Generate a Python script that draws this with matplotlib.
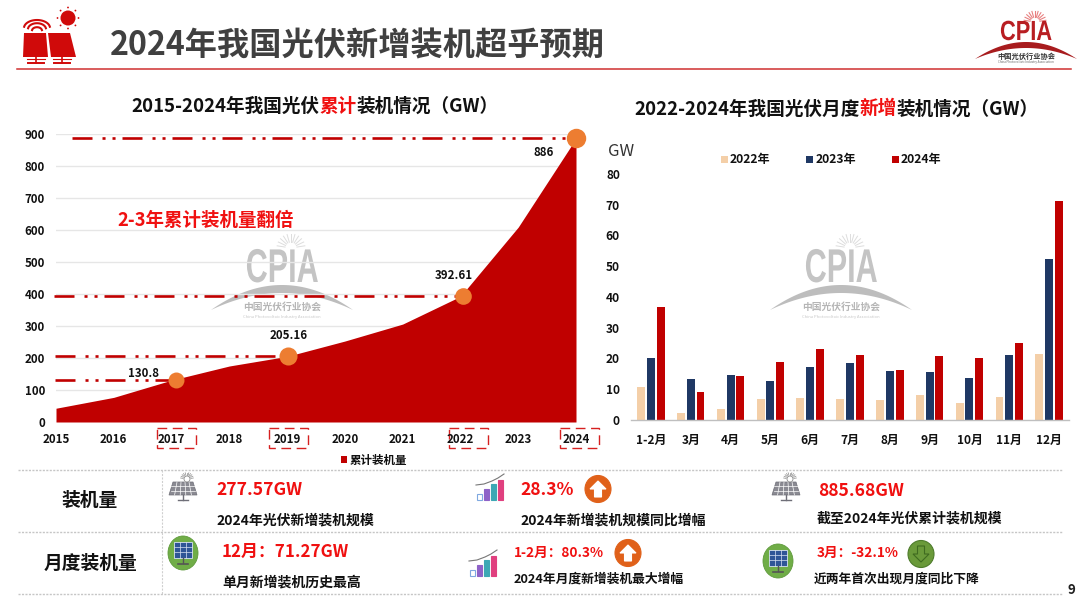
import numpy as np
import matplotlib
matplotlib.use("Agg")
import matplotlib.pyplot as plt
from matplotlib.patches import Circle, Ellipse, Polygon, Rectangle
from matplotlib.patheffects import AbstractPathEffect
from matplotlib.transforms import Affine2D

plt.rcParams["font.family"] = ["Noto Sans CJK SC", "DejaVu Sans"]
plt.rcParams["lines.scale_dashes"] = False

# ---------------- DATA ----------------
years = [2015, 2016, 2017, 2018, 2019, 2020, 2021, 2022, 2023, 2024]
cumulative = [43, 77, 130.8, 175, 205.16, 253, 306, 392.61, 609, 886]
y_ticks_left = [0, 100, 200, 300, 400, 500, 600, 700, 800, 900]

marked_years = [2017, 2019, 2022, 2024]
marked_labels = ["130.8", "205.16", "392.61", "886"]

months = ["1-2月", "3月", "4月", "5月", "6月", "7月", "8月", "9月", "10月", "11月", "12月"]
monthly_2022 = [10.7, 2.3, 3.6, 6.7, 7.0, 6.7, 6.6, 8.0, 5.5, 7.4, 21.5]
monthly_2023 = [20.2, 13.2, 14.6, 12.8, 17.1, 18.6, 15.9, 15.7, 13.5, 21.2, 52.2]
monthly_2024 = [36.7, 9.0, 14.3, 18.9, 23.2, 21.0, 16.3, 20.8, 20.3, 24.9, 71.27]
y_ticks_right = [0, 10, 20, 30, 40, 50, 60, 70, 80]

DARK_RED = "#C00000"
RED = "#F01010"
NAVY = "#1F3864"
PEACH = "#F4CFA8"
ORANGE = "#ED7D31"
INK = "#111111"
W, H = 1080, 599

fig = plt.figure(figsize=(W / 100, H / 100), dpi=100, facecolor="white")
renderer = fig.canvas.get_renderer()

bg = fig.add_axes([0, 0, 1, 1], zorder=0)
bg.set_xlim(0, W)
bg.set_ylim(H, 0)
bg.axis("off")


class StretchY(AbstractPathEffect):
    # tall condensed look of the CPIA logo letters
    def __init__(self, factor):
        super().__init__()
        self.factor = factor

    def draw_path(self, renderer, gc, tpath, affine, rgbFace=None):
        renderer.draw_path(gc, tpath, Affine2D().scale(1, self.factor) + affine, rgbFace)


def px_axes(left, top, right, bottom):
    ax = fig.add_axes([left / W, 1 - bottom / H, (right - left) / W, (bottom - top) / H], zorder=1)
    ax.patch.set_alpha(0)
    return ax


def txt(x, y, s, size, color=INK, weight="bold", ha="left", **kw):
    return bg.text(x, y + 1, s, fontsize=size, color=color, fontweight=weight, ha=ha, va="center", **kw)


def mixed_text(x, y, parts, size):
    for s, color in parts:
        t = txt(x, y, s, size, color)
        x += t.get_window_extent(renderer).width


def crescent(cx, half, peak, drop, thick, color, alpha=1.0):
    xs = np.linspace(cx - half, cx + half, 60)
    u = (xs - cx) / half
    upper = peak + drop * u ** 2
    lower = upper + thick * (1 - u ** 2)
    pts = np.r_[np.c_[xs, upper], np.c_[xs[::-1], lower[::-1]]]
    bg.add_patch(Polygon(pts, closed=True, fc=color, ec="none", alpha=alpha))


def sun_rays(cx, cy, r0, r1, color, lw=0.7):
    for a in np.linspace(np.pi * 1.05, np.pi * 1.95, 11):
        bg.plot([cx + r0 * np.cos(a), cx + r1 * np.cos(a)],
                [cy + r0 * np.sin(a), cy + r1 * np.sin(a)], color=color, lw=lw)


def logo_word(cx, baseline, size, color, stretch):
    t = bg.text(cx, baseline, "CPIA", fontsize=size, color=color, fontweight="bold", ha="center",
                va="baseline", family="Liberation Sans")
    t.set_path_effects([StretchY(stretch)])


def watermark(cx):
    grey = "#C4C4C4"
    sun_rays(cx + 9, 248, 6, 14, "#DDDDDD")
    logo_word(cx, 282, 22, grey, 1.55)
    crescent(cx, 71, 285, 25, 8, "#BDBDBD")
    txt(cx, 306, "中国光伏行业协会", 7, "#B5B5B5", ha="center")
    txt(cx, 316, "China Photovoltaic Industry Association", 3, "#C8C8C8", weight="normal", ha="center")


def panel_icon(cx, cy):
    grey = "#6F6F78"
    bg.add_patch(Polygon([(cx - 10, cy - 8), (cx + 10, cy - 8), (cx + 14, cy + 5), (cx - 14, cy + 5)],
                         closed=True, fc="#8A8A92", ec=grey, lw=0.5))
    for k in range(1, 5):
        bg.plot([cx - 10 + 4 * k, cx - 14 + 5.6 * k], [cy - 8, cy + 5], color="white", lw=0.5)
    for k in (-4, 0.5):
        bg.plot([cx - 12, cx + 12], [cy + k, cy + k], color="white", lw=0.5)
    bg.plot([cx, cx], [cy + 5, cy + 10], color=grey, lw=1)
    bg.plot([cx - 5, cx + 5], [cy + 10, cy + 10], color=grey, lw=1)
    bg.add_patch(Circle((cx + 4, cy - 11), 3, fc="white", ec="#8A8A8A", lw=0.6))
    sun_rays(cx + 4, cy - 11, 4, 6.5, "#8A8A8A", 0.5)


def trend_icon(cx, cy):
    colors = ["#7FA8E0", "#8E62C8", "#3DA8B5", "#E0407F"]
    heights = [6, 11, 16, 20]
    for k in range(4):
        x = cx - 13 + k * 7
        bg.add_patch(Rectangle((x, cy + 12 - heights[k]), 4.5, heights[k], fc="white" if k == 0 else colors[k],
                               ec=colors[k], lw=0.8))
    bg.plot([cx - 14, cx - 6, cx + 2, cx + 8, cx + 14], [cy - 3, cy - 4, cy - 7, cy - 10, cy - 14],
            color="#777777", lw=0.8)


def green_panel(cx, cy):
    bg.add_patch(Ellipse((cx, cy), 30, 34, fc="#70AD47", ec="#5F9A3C", lw=0.6))
    bg.add_patch(Rectangle((cx - 9, cy - 11), 18, 16, fc="#2F5597", ec="#D9E2F3", lw=0.6))
    for k in (-3, 3):
        bg.plot([cx + k, cx + k], [cy - 11, cy + 5], color="#D9E2F3", lw=0.5)
    for k in (-6, -1):
        bg.plot([cx - 9, cx + 9], [cy + k, cy + k], color="#D9E2F3", lw=0.5)
    bg.plot([cx, cx], [cy + 5, cy + 10], color="#555555", lw=1)
    bg.plot([cx - 5, cx + 5], [cy + 11, cy + 11], color="#555555", lw=1.2)


def arrow_circle(cx, cy, up=True):
    fc, ink = ("#E0611A", "white") if up else ("#6A9A3A", "#3F6B20")
    bg.add_patch(Ellipse((cx, cy), 26, 27, fc=fc, ec="#4E7C2C" if not up else fc, lw=0.8))
    s = 1 if up else -1
    pts = [(cx, cy - 8 * s), (cx + 8, cy), (cx + 3.5, cy), (cx + 3.5, cy + 8 * s),
           (cx - 3.5, cy + 8 * s), (cx - 3.5, cy), (cx - 8, cy)]
    bg.add_patch(Polygon(pts, closed=True, fc="white" if up else fc, ec=ink, lw=0.8))


# ---------------- HEADER ----------------
txt(110, 45, "2024年我国光伏新增装机超乎预期", 23.2, "#404040")
bg.plot([17, 1071], [69, 69], color="#D03030", lw=1.1)

bg.add_patch(Polygon([(24, 33), (46, 33), (48, 57), (23, 57)], closed=True, fc="#D00A0A", ec="none"))
bg.add_patch(Polygon([(48, 33), (70, 33), (76, 57), (51, 57)], closed=True, fc="#D00A0A", ec="none"))
for c in (36, 62):
    bg.plot([c, c], [57, 63], color="#D00A0A", lw=1.2)
    bg.plot([c - 8, c + 8], [63, 63], color="#D00A0A", lw=1.4)
    bg.plot([c - 9, c + 9], [59, 59], color="#D00A0A", lw=0.8)
for rx, ry in ((13, 8), (9, 6), (5, 3.5)):
    a = np.linspace(np.pi * 1.05, np.pi * 1.95, 30)
    bg.plot(37 + rx * np.cos(a), 28 + ry * np.sin(a) + (8 - ry) * 0.6, color="#D00A0A", lw=1.5)
bg.add_patch(Circle((68, 18), 7.5, fc="#D00A0A", ec="none"))
for a in np.linspace(0, 2 * np.pi, 8, endpoint=False):
    bg.add_patch(Circle((68 + 10.5 * np.cos(a), 18 + 10.5 * np.sin(a)), 0.9, fc="#D00A0A", ec="none"))

sun_rays(1035, 22, 5, 11, "#E88080", 0.8)
logo_word(1026, 40, 15.7, "#B81E22", 1.27)
crescent(1026, 51, 42, 17, 6, "#A81C1E")
txt(1026, 55.5, "中国光伏行业协会", 5.2, "#333333", ha="center")
txt(1026, 61.5, "China Photovoltaic Industry Association", 2.2, "#666666", weight="normal", ha="center")

watermark(282)
watermark(841)

# ---------------- LEFT CHART ----------------
mixed_text(131, 105, [("2015-2024年我国光伏", INK), ("累计", RED), ("装机情况（GW）", INK)], 13.4)

ax1 = px_axes(56, 134, 576, 422)
ax1.fill_between(years, cumulative, 0, color=DARK_RED, lw=0, zorder=2)
ax1.set_xlim(2015, 2024)
ax1.set_ylim(0, 900)
ax1.set_yticks(y_ticks_left, [str(v) for v in y_ticks_left], fontsize=8.3, fontweight="bold", color=INK)
ax1.set_xticks(years, [str(v) for v in years], fontsize=8.3, fontweight="bold", color=INK)
ax1.tick_params(length=0, axis="y", pad=8)
ax1.tick_params(length=0, axis="x", pad=8)
ax1.grid(axis="y", color="#E6E6E6", lw=1)
ax1.set_axisbelow(True)
for s in ax1.spines.values():
    s.set_visible(False)

dash_dot = (0, (14.4, 7.2, 2.2, 5, 2.2, 5))
line_starts = [2014.98, 2014.98, 2014.97, 2015.28]
marker_nudge = [0.08, 0.02, 0.04, 0.0]
marker_sizes = [11.5, 13, 12, 14]
label_offsets = [(-28, 7), (2, 21), (-7, 21), (-32, -14)]
for i, yr in enumerate(marked_years):
    val = cumulative[years.index(yr)]
    ax1.plot([line_starts[i], yr - 0.05], [val, val], color=DARK_RED, lw=1.9, linestyle=dash_dot,
             clip_on=False, zorder=3)
    ax1.plot(yr + marker_nudge[i], val, "o", color=ORANGE, ms=marker_sizes[i], mec="none", clip_on=False, zorder=4)
    ax1.annotate(marked_labels[i], (yr, val), xytext=label_offsets[i], textcoords="offset pixels",
                 fontsize=8.3, color=INK, ha="center", va="center", fontweight="bold", zorder=5)

txt(117, 219, "2-3年累计装机量翻倍", 13.3, RED)

for x0 in (157, 269, 449, 560):
    bg.add_patch(Rectangle((x0, 428), 38.5, 20, fc="none", ec="#D62020", lw=1, ls=(0, (7, 4))))

bg.add_patch(Rectangle((341, 456), 6, 6.5, fc=DARK_RED, ec="none"))
txt(350, 459.5, "累计装机量", 8.3)

# ---------------- RIGHT CHART ----------------
mixed_text(634, 108, [("2022-2024年我国光伏月度", INK), ("新增", RED), ("装机情况（GW）", INK)], 13.4)

ax2 = px_axes(631, 174, 1069, 420)
x = np.arange(len(months))
ax2.bar(x - 0.245, monthly_2022, width=0.2, color=PEACH, label="2022年")
ax2.bar(x, monthly_2023, width=0.2, color=NAVY, label="2023年")
ax2.bar(x + 0.245, monthly_2024, width=0.2, color=DARK_RED, label="2024年")
ax2.set_xlim(-0.5, len(months) - 0.5)
ax2.set_ylim(0, 80)
ax2.set_yticks(y_ticks_right, [str(v) for v in y_ticks_right], fontsize=8.6, fontweight="bold", color=INK)
ax2.set_xticks(x, months, fontsize=8.6, fontweight="bold", color=INK)
ax2.tick_params(length=0, axis="y", pad=8)
ax2.tick_params(length=0, axis="x", pad=10)
for name in ("top", "right", "left"):
    ax2.spines[name].set_visible(False)
ax2.spines["bottom"].set_color("#BFBFBF")
ax2.spines["bottom"].set_linewidth(1)

txt(608, 150, "GW", 12, "#333333", weight="normal")
for sq, tx, label, col in ((721, 730, "2022年", PEACH), (806, 816, "2023年", NAVY), (892, 901, "2024年", DARK_RED)):
    bg.add_patch(Rectangle((sq, 156), 7, 7, fc=col, ec="none"))
    txt(tx, 158, label, 8.7)

# ---------------- BOTTOM TABLE ----------------
for y in (470, 532, 594):
    bg.plot([18, 1063], [y, y], color="#C6C6C6", lw=1, ls=(0, (1.5, 1)))
bg.plot([162, 162], [470, 594], color="#CFCFCF", lw=0.8, ls=(0, (1.5, 1)))

txt(90, 500, "装机量", 13.5, ha="center")
txt(90, 562, "月度装机量", 13.5, ha="center")

txt(216, 489, "277.57GW", 12.6, RED)
txt(216, 519, "2024年光伏新增装机规模", 10)
txt(520, 489, "28.3%", 12.6, RED)
txt(520, 519, "2024年新增装机规模同比增幅", 10)
txt(818, 490, "885.68GW", 12.6, RED)
txt(817, 517, "截至2024年光伏累计装机规模", 10)
txt(222, 551, "12月：71.27GW", 12.2, RED)
txt(222, 581, "单月新增装机历史最高", 10)
txt(514, 552, "1-2月：80.3%", 9.8, RED)
txt(514, 578, "2024年月度新增装机最大增幅", 9.2)
txt(817, 552, "3月：-32.1%", 9.8, RED)
txt(814, 578, "近两年首次出现月度同比下降", 9.2)
txt(1071, 589, "9", 9.5, "#222222", ha="center")

panel_icon(183, 490)
panel_icon(786, 490)
trend_icon(490, 488)
trend_icon(483, 564)
green_panel(183, 553)
green_panel(778, 561)
arrow_circle(598, 489, up=True)
arrow_circle(628, 553, up=True)
arrow_circle(921, 554, up=False)

fig.savefig("out.png", dpi=100)
